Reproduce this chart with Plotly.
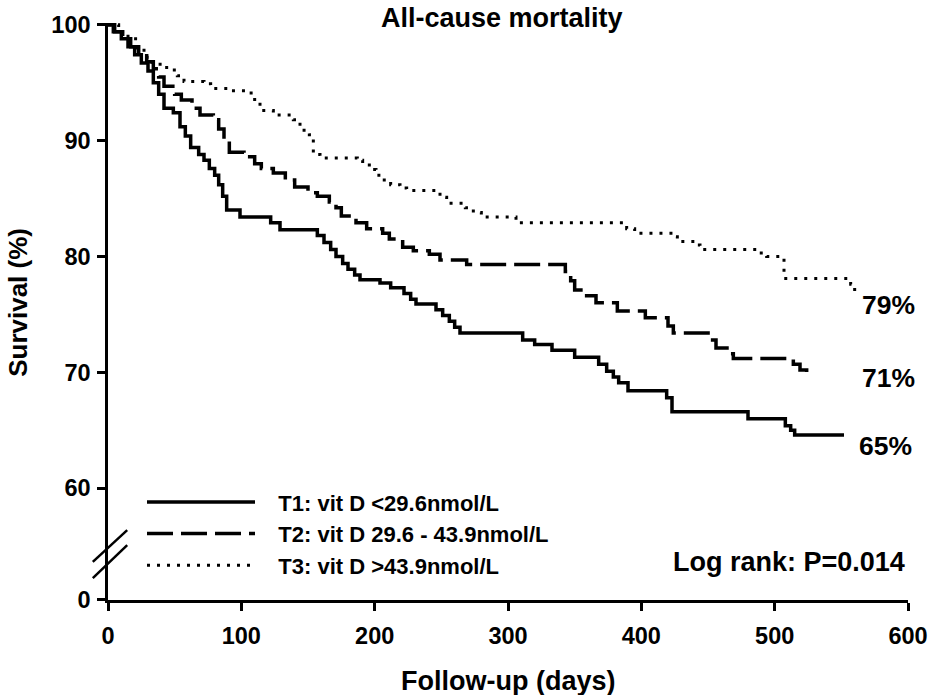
import plotly.graph_objects as go

# ---------------- data ----------------
series_names = ["T1: vit D <29.6nmol/L", "T2: vit D 29.6 - 43.9nmol/L", "T3: vit D >43.9nmol/L"]

t1_days = [0, 4, 10, 15, 20, 25, 30, 34, 38, 42, 49, 54, 58, 62, 68, 72, 76, 80, 83, 86, 89, 99,
           122, 129, 157, 162, 167, 171, 176, 180, 185, 189, 204, 212, 222, 227, 231, 246, 251, 256,
           260, 264, 311, 320, 333, 350, 368, 374, 379, 383, 390, 419, 423, 480, 508, 512, 515, 552]
t1_surv = [100, 99.4, 98.8, 98.1, 97.4, 96.7, 96.0, 95.0, 94.0, 92.8, 92.4, 91.2, 90.4, 89.4, 88.8,
           88.3, 87.6, 87.0, 86.2, 85.2, 84.0, 83.4, 82.9, 82.3, 81.8, 81.2, 80.6, 80.0, 79.4, 78.9,
           78.4, 78.0, 77.7, 77.3, 76.8, 76.3, 75.9, 75.4, 74.9, 74.4, 73.9, 73.4, 72.8, 72.4, 71.9,
           71.3, 70.7, 70.1, 69.6, 69.1, 68.4, 67.8, 66.6, 66.0, 65.4, 65.0, 64.6, 64.6]

t2_days = [0, 5, 11, 17, 23, 29, 34, 38, 42, 50, 55, 63, 69, 79, 83, 87, 91, 102, 110, 115, 124,
           133, 140, 150, 157, 166, 171, 175, 186, 194, 206, 211, 221, 229, 241, 249, 269, 343, 347,
           350, 356, 366, 382, 403, 420, 424, 452, 456, 466, 469, 514, 519, 524, 527]
t2_surv = [100, 99.4, 98.8, 98.1, 97.5, 96.8, 96.2, 95.5, 94.7, 94.0, 93.5, 92.8, 92.2, 91.8, 91.0,
           90.1, 89.0, 88.6, 88.0, 87.6, 87.2, 86.6, 86.0, 85.5, 85.2, 84.7, 84.2, 83.5, 82.9, 82.4,
           82.0, 81.5, 80.8, 80.5, 80.2, 79.7, 79.3, 78.7, 77.9, 77.1, 76.6, 76.0, 75.3, 74.7, 74.0,
           73.4, 72.8, 72.1, 71.6, 71.2, 70.7, 70.2, 69.8, 69.8]

t3_days = [0, 8, 15, 22, 27, 33, 44, 52, 57, 72, 77, 90, 104, 110, 114, 124, 139, 144, 151, 154,
           159, 187, 191, 196, 201, 206, 212, 219, 224, 249, 254, 268, 274, 280, 306, 389, 395, 424,
           427, 442, 444, 487, 494, 507, 557, 560]
t3_surv = [100, 99.4, 98.8, 98.0, 97.2, 96.6, 96.1, 95.6, 95.1, 94.9, 94.5, 94.3, 94.1, 93.4, 92.6,
           92.2, 91.8, 90.9, 90.5, 88.8, 88.5, 88.3, 87.9, 87.5, 87.0, 86.6, 86.2, 85.9, 85.7, 85.1,
           84.6, 84.2, 83.8, 83.4, 82.9, 82.4, 82.0, 81.7, 81.3, 81.0, 80.6, 80.3, 80.0, 78.1, 77.6,
           76.6]

end_labels = ["65%", "71%", "79%"]
end_label_pos = [(583, 63.6), (585, 69.5), (585, 75.8)]   # (days, survival) where labels sit

Y_BREAK = 50.36   # axis value at which the broken-axis "0" is shown
y_tick_vals = [Y_BREAK, 60, 70, 80, 90, 100]
y_tick_text = ["0", "60", "70", "80", "90", "100"]
x_tick_vals = [0, 100, 200, 300, 400, 500, 600]

# ---------------- figure ----------------
FONT = "Arial, 'Liberation Sans', Helvetica, sans-serif"
styles = [
    dict(color="black", width=3.5, dash="solid"),
    dict(color="black", width=3.5, dash="26px,8px"),
    dict(color="black", width=3, dash="3px,7px"),
]
data = [(t1_days, t1_surv), (t2_days, t2_surv), (t3_days, t3_surv)]
GAP = "\u00a0\u00a0\u00a0"   # extra space between legend sample and its text

fig = go.Figure()
for (d, s), name, st in zip(data, series_names, styles):
    fig.add_trace(go.Scatter(x=d, y=s, mode="lines", name=GAP + name, line=dict(shape="hv", **st)))

axis_common = dict(showline=True, linewidth=2.5, linecolor="black", ticks="outside", ticklen=8,
                   tickwidth=2.5, tickcolor="black", showgrid=False, zeroline=False,
                   automargin=False, tickfont=dict(size=23.5, weight="bold"))

fig.update_layout(
    width=930, height=695,
    margin=dict(l=108, r=22, t=23, b=95, autoexpand=False),
    paper_bgcolor="white", plot_bgcolor="white",
    font=dict(family=FONT, color="black", size=21, weight="bold"),
    showlegend=True,
    legend=dict(x=0.0425, y=0.206, xanchor="left", yanchor="top", bgcolor="rgba(0,0,0,0)",
                itemwidth=108, tracegroupgap=0, font=dict(size=22, family=FONT, weight="bold")),
    xaxis=dict(range=[0, 600], tickvals=x_tick_vals, ticklabelstandoff=5, **axis_common),
    yaxis=dict(range=[Y_BREAK - 0.01, 100.15], tickvals=y_tick_vals, ticktext=y_tick_text,
               ticklabelstandoff=2, **axis_common),
)

annotations = [
    dict(text="All-cause mortality", xref="paper", yref="paper", x=0.4925, y=1.009, showarrow=False,
         xanchor="center", yanchor="middle", font=dict(size=27, weight="bold")),
    dict(text="Follow-up (days)", xref="paper", yref="paper", x=0.5, y=-0.14, showarrow=False,
         xanchor="center", yanchor="middle", font=dict(size=27, weight="bold")),
    dict(text="Survival (%)", xref="paper", yref="paper", x=-0.1125, y=0.515, showarrow=False,
         textangle=-90, xanchor="center", yanchor="middle", font=dict(size=26, weight="bold")),
    dict(text="Log rank: P=0.014", xref="paper", yref="paper", x=0.851, y=0.066, showarrow=False,
         xanchor="center", yanchor="middle", font=dict(size=27, weight="bold")),
]
for lab, (dx, dy) in zip(end_labels, end_label_pos):
    annotations.append(dict(text=lab, x=dx, y=dy, xref="x", yref="y", showarrow=False,
                            xanchor="center", yanchor="middle", font=dict(size=26.5, weight="bold")))
fig.update_layout(annotations=annotations)

# axis-break marks ("//") on the y axis
for y0, y1 in [(0.066, 0.121), (0.038, 0.095)]:
    fig.add_shape(type="line", xref="paper", yref="paper", x0=-0.019, y0=y0, x1=0.024, y1=y1,
                  line=dict(color="black", width=2.5))

# remove the browser's default 8px body margin so the figure fills the window exactly
fig.write_html("out.html", config={"displayModeBar": False},
               post_script="document.body.style.margin='0';")
